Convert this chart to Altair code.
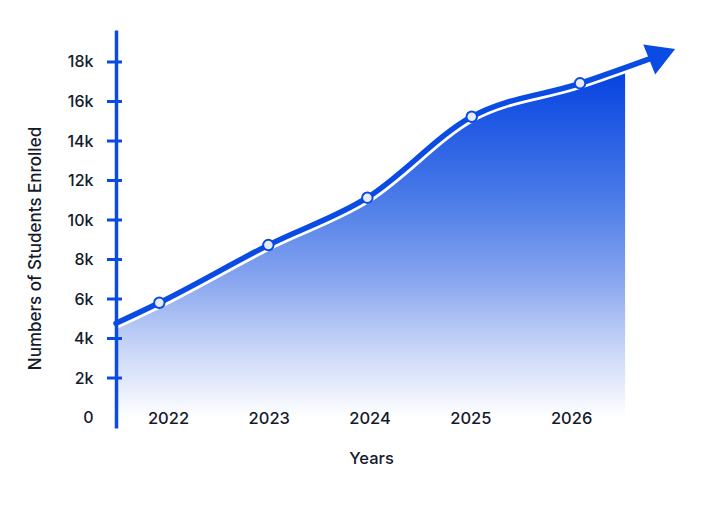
import altair as alt
import pandas as pd

# Curve (years, values in thousands)
line_years = [2021.484, 2021.914, 2022.996, 2023.978, 2025.014, 2026.089, 2026.80]
line_values = [4.77, 5.81, 8.73, 11.13, 15.23, 16.92, 18.20]

# Marked points
point_years = [2021.914, 2022.996, 2023.978, 2025.014, 2026.089]
point_values = [5.81, 8.73, 11.13, 15.23, 16.92]

# Filled area (ends before the arrow)
area_years = [2021.484, 2021.914, 2022.996, 2023.978, 2025.014, 2026.089, 2026.536]
area_values = [4.77, 5.81, 8.73, 11.13, 15.23, 16.92, 17.60]

# Arrow head
arrow_year = [2026.904]
arrow_value = [18.39]

# Axis ticks / labels
y_tick_values = [0, 2, 4, 6, 8, 10, 12, 14, 16, 18]
x_tick_values = [2022, 2023, 2024, 2025, 2026]

BLUE = "#0a4be3"
TEXT = "#141a2b"
FONT = "Inter"

line_df = pd.DataFrame({"year": line_years, "value": line_values})
point_df = pd.DataFrame({"year": point_years, "value": point_values})
area_df = pd.DataFrame({"year": area_years, "value": area_values})
arrow_df = pd.DataFrame({"year": arrow_year, "value": arrow_value})
tick_df = pd.DataFrame({"value": y_tick_values[1:]})

x_scale = alt.Scale(domain=[2021.484, 2027.18], nice=False, zero=False)
y_scale = alt.Scale(domain=[-0.53, 19.62], nice=False, zero=False)

x_axis = alt.Axis(
    values=x_tick_values, format="d", domain=False, ticks=False, grid=False,
    labelPadding=-10, labelBaseline="middle", labelFontSize=16.5, labelColor=TEXT,
    labelFontWeight=500, labelFont=FONT,
    title="Years", titleFontSize=16.5, titleColor=TEXT, titleFontWeight=500,
    titleFont=FONT, titleX=255, titleY=30, titleBaseline="middle", zindex=1,
)
y_axis = alt.Axis(
    values=y_tick_values, labelExpr="datum.value == 0 ? '0' : datum.value + 'k'",
    ticks=False, grid=False, domain=True, domainColor=BLUE, domainWidth=3.5,
    labelPadding=23, labelFontSize=16, labelColor=TEXT, labelFontWeight=500,
    labelFont=FONT, labelBaseline="middle",
    title="Numbers of Students Enrolled", titleFontSize=17, titleColor=TEXT,
    titleFontWeight=500, titleFont=FONT, titleX=-81, titleY=218,
    titleBaseline="middle", zindex=1,
)

x_enc = alt.X("year:Q", scale=x_scale, axis=x_axis)
y_enc = alt.Y("value:Q", scale=y_scale, axis=y_axis)

gradient = alt.Gradient(
    gradient="linear",
    stops=[
        alt.GradientStop(color="#0442e0", offset=0),
        alt.GradientStop(color="#4a7be8", offset=0.37),
        alt.GradientStop(color="#87a5ef", offset=0.6),
        alt.GradientStop(color="#c8d5f7", offset=0.8),
        alt.GradientStop(color="#ffffff", offset=1),
    ],
    x1=0, x2=0, y1=0, y2=1,
)

area = alt.Chart(area_df).mark_area(color=gradient, interpolate="monotone").encode(
    x=x_enc, y=y_enc, y2=alt.datum(0)
)
halo = alt.Chart(line_df).mark_line(
    color="white", strokeWidth=11, interpolate="monotone", strokeCap="round"
).encode(x="year:Q", y="value:Q")
line = alt.Chart(line_df).mark_line(
    color=BLUE, strokeWidth=5.5, interpolate="monotone", strokeCap="round"
).encode(x="year:Q", y="value:Q")
ticks = alt.Chart(tick_df).mark_rule(color=BLUE, strokeWidth=3).encode(
    y="value:Q", x=alt.value(-9), x2=alt.value(6)
)
points = alt.Chart(point_df).mark_point(
    shape="circle", filled=True, fill="#e6ecfa", stroke=BLUE, strokeWidth=2,
    size=110, opacity=1
).encode(x="year:Q", y="value:Q")
arrow = alt.Chart(arrow_df).mark_point(
    shape="triangle-right", filled=True, color=BLUE, size=1040, angle=338.2,
    opacity=1
).encode(x="year:Q", y="value:Q")

chart = alt.layer(area, halo, line, ticks, points, arrow).properties(
    width=574, height=398,
    padding={"left": 108, "top": 22, "right": 8, "bottom": 70},
    autosize=alt.AutoSizeParams(type="none"),
).configure(font=FONT).configure_view(stroke=None, strokeWidth=0)

chart.save("out.html", embed_options={"renderer": "svg", "actions": False})
